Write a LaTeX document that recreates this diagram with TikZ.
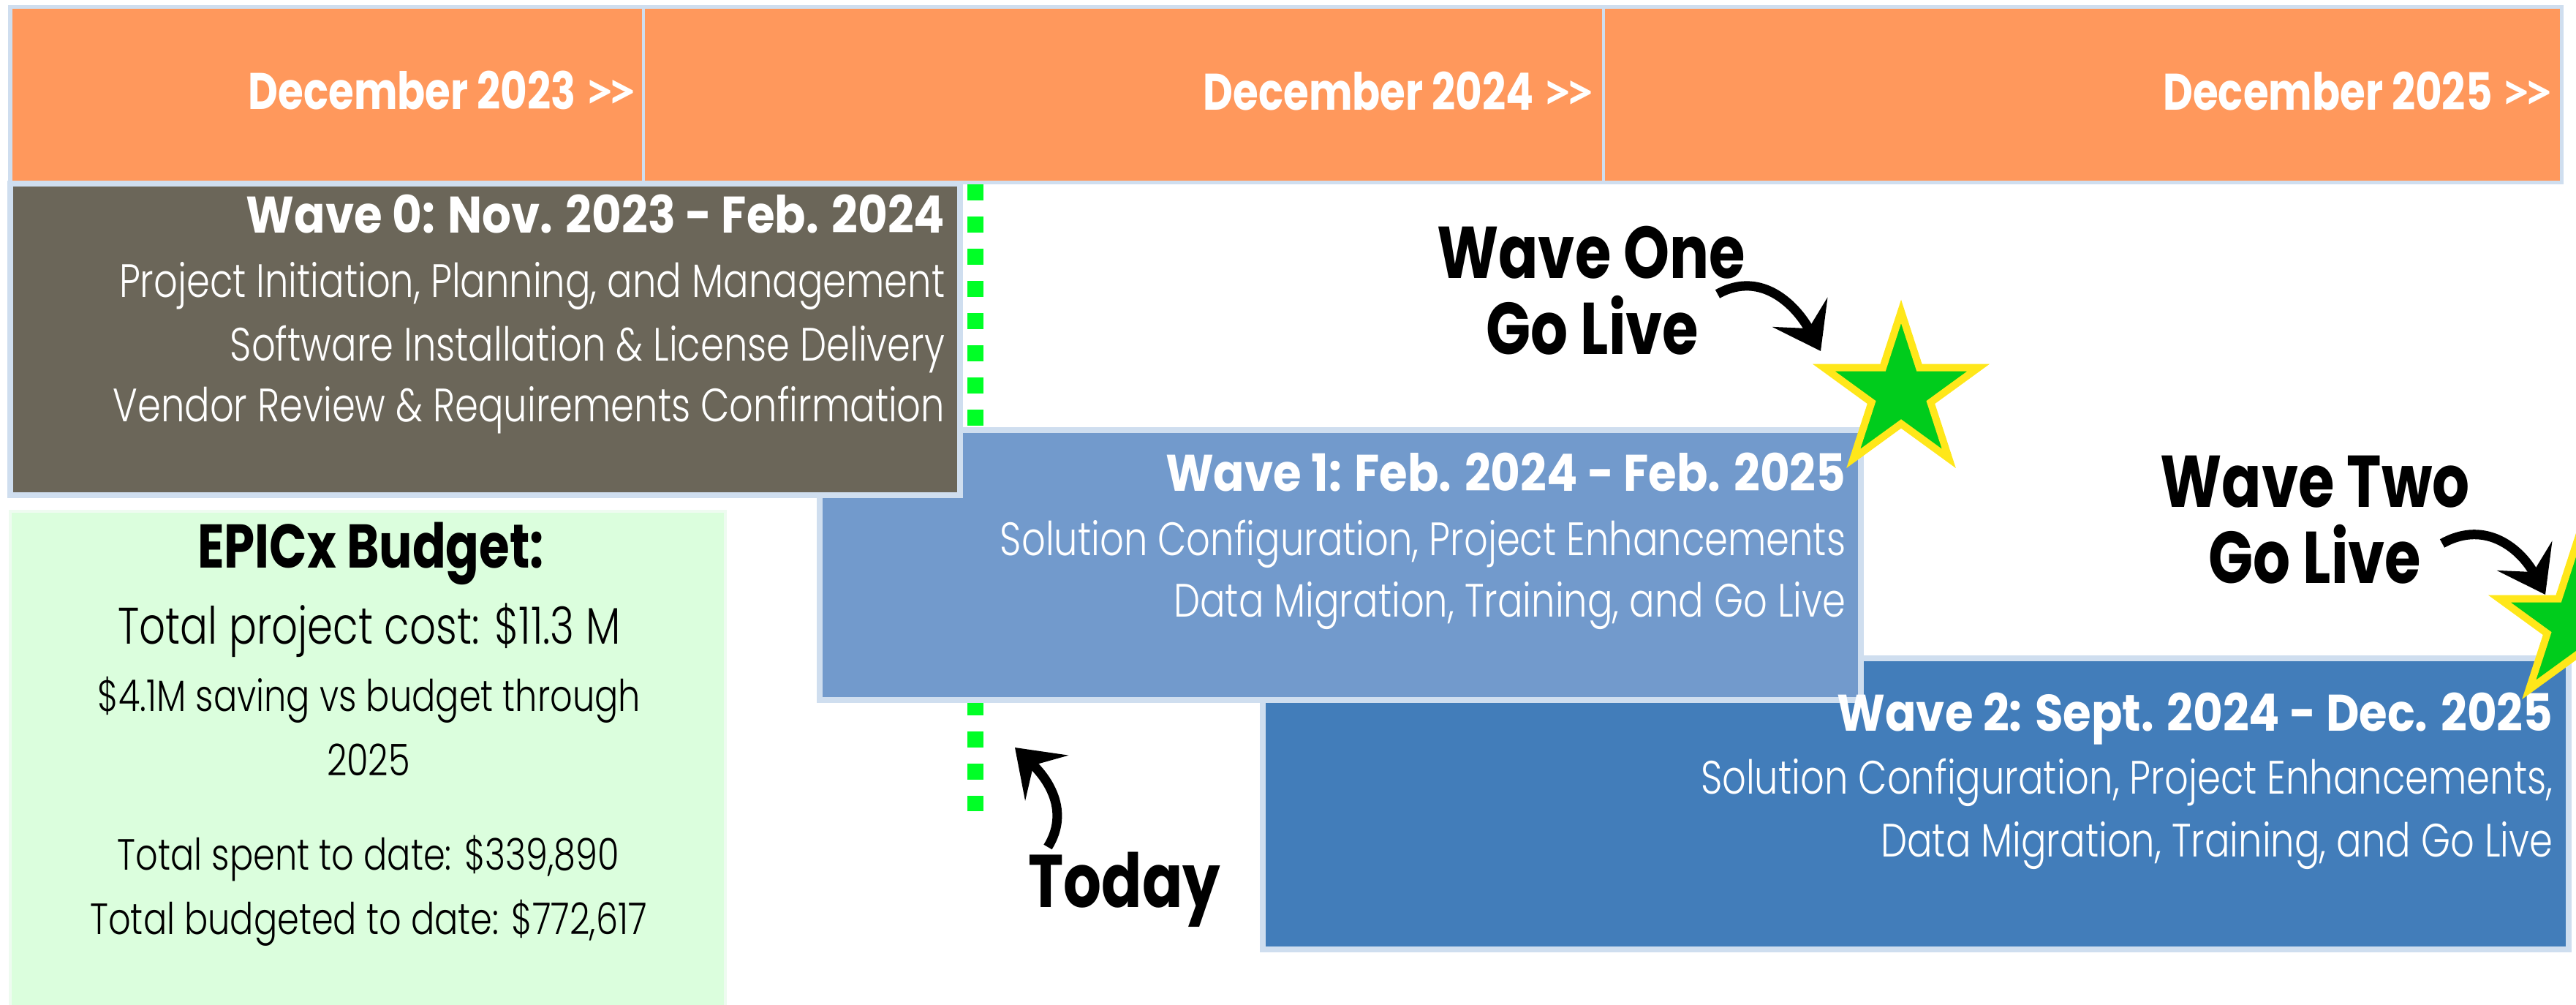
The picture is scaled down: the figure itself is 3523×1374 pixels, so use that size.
\documentclass[tikz,border=0pt]{standalone}
\usepackage{fontspec}
\setmainfont{Poppins}[FakeStretch=0.8]
\newfontfamily\widefont{Poppins}[FakeStretch=0.89]
\newfontfamily\chevfont{Lato}
\IfFontExistsTF{Poppins Light}{\newfontfamily\thinfont{Poppins Light}[FakeStretch=0.8]}{\newfontfamily\thinfont{Poppins}[FakeStretch=0.8]}
\usetikzlibrary{arrows.meta,shapes.geometric}

\definecolor{hdrorange}{HTML}{FF985C}
\definecolor{edgeblue}{HTML}{CFDEEF}
\definecolor{wavezero}{HTML}{6B6659}
\definecolor{waveone}{HTML}{729ACC}
\definecolor{wavetwo}{HTML}{427DBA}
\definecolor{budgetgreen}{HTML}{DBFEDD}
\definecolor{budgetedge}{HTML}{EEFBF0}
\definecolor{todaygreen}{HTML}{00FF26}
\definecolor{stargreen}{HTML}{00CC1C}
\definecolor{staryellow}{HTML}{FFE71A}

\newcommand\chev{{\chevfont\bfseries >\kern-0.14em>}}

\tikzset{
  wavebox/.style={draw=edgeblue,line width=0.08cm},
  hdrtxt/.style={font=\bfseries\fontsize{20}{24}\selectfont,text=white,anchor=base east,inner sep=0pt},
  titletxt/.style={font=\widefont\bfseries\fontsize{20}{24}\selectfont,text=white,anchor=base east,inner sep=0pt},
  linetxt/.style={font=\thinfont\fontsize{18.2}{22}\selectfont,text=white,anchor=base east,inner sep=0pt},
  budgettxt/.style={font=\thinfont\fontsize{17}{20}\selectfont,anchor=base,inner sep=0pt},
  calltxt/.style={font=\bfseries\fontsize{28.5}{34}\selectfont,anchor=base,inner sep=0pt},
  golive/.style={star,star points=5,star point ratio=2.618,minimum size=2.22cm,inner sep=0pt,
    fill=stargreen,draw=staryellow,line width=0.1cm},
  bentarrow/.style={line width=0.13cm,-{Stealth[length=6mm,width=8.5mm,inset=2.5mm]}},
  todaydots/.style={todaygreen,line width=0.22cm,dash pattern=on 0.22cm off 0.22cm},
}

\begin{document}
\begin{tikzpicture}[x=0.01cm,y=-0.01cm]
  \useasboundingbox (0,0) rectangle (3523,1374);

  % month band
  \fill[draw=edgeblue,line width=0.05cm,fill=hdrorange] (14,10) rectangle (3503,250);
  \draw[edgeblue,line width=0.04cm] (880,10) -- (880,250);
  \draw[edgeblue,line width=0.04cm] (2193,10) -- (2193,250);
  \node[hdrtxt] (dec23) at (872,150) {December 2023 \chev};
  \node[hdrtxt] (dec24) at (2182,151) {December 2024 \chev};
  \node[hdrtxt] (dec25) at (3493,151) {December 2025 \chev};

  % today marker
  \coordinate (todaytop) at (1334,252);
  \coordinate (todaybot) at (1334,1109);
  \draw[todaydots] (todaytop) -- (todaybot);

  % waves, back to front
  \fill[wavebox,fill=wavetwo] (1727,900) rectangle (3513,1298);
  \fill[wavebox,fill=waveone] (1121,588) rectangle (2545,957);
  \fill[wavebox,fill=wavezero] (14,251) rectangle (1313,677);
  \fill[draw=budgetedge,line width=0.04cm,fill=budgetgreen] (14,699) rectangle (992,1380);

  \node[titletxt] (w0title) at (1293,319) {Wave 0: Nov. 2023 - Feb. 2024};
  \node[linetxt] (w0a) at (1293,407) {Project Initiation, Planning, and Management};
  \node[linetxt] (w0b) at (1293,494) {Software Installation \& License Delivery};
  \node[linetxt] (w0c) at (1293,577) {Vendor Review \& Requirements Confirmation};

  \node[titletxt] (w1title) at (2525,672) {Wave 1: Feb. 2024 - Feb. 2025};
  \node[linetxt] (w1a) at (2525,760) {Solution Configuration, Project Enhancements};
  \node[linetxt] (w1b) at (2525,844) {Data Migration, Training, and Go Live};

  \node[titletxt] (w2title) at (3492,1000) {Wave 2: Sept. 2024 - Dec. 2025};
  \node[linetxt] (w2a) at (3492,1086) {Solution Configuration, Project Enhancements,};
  \node[linetxt] (w2b) at (3492,1172) {Data Migration, Training, and Go Live};

  % budget
  \node[budgettxt,font=\bfseries\fontsize{24}{28}\selectfont] (budget) at (507,777) {EPICx Budget:};
  \node[budgettxt,font=\thinfont\fontsize{20}{24}\selectfont] (cost) at (505,881) {Total project cost: \$11.3 M};
  \node[budgettxt] (saving) at (505,973) {\$4.1M saving vs budget through};
  \node[budgettxt] (savingyr) at (504,1061) {2025};
  \node[budgettxt] (spent) at (504,1190) {Total spent to date: \$339,890};
  \node[budgettxt] (budgeted) at (504,1278) {Total budgeted to date: \$772,617};

  % go live stars
  \node[golive] (star1) at (2600,537) {};
  \node[golive] (star2) at (3524,853) {};

  \node[calltxt] (w1call) at (2176,381) {Wave One};
  \node[calltxt] (w1go) at (2178,485) {Go Live};
  \node[calltxt] (w2call) at (3166,694) {Wave Two};
  \node[calltxt] (w2go) at (3166,798) {Go Live};
  \node[calltxt,font=\bfseries\fontsize{29}{34}\selectfont] (today) at (1538,1241) {Today};

  \coordinate (w1tail) at (2349,402);
  \coordinate (w1tip) at (2490,480);
  \draw[bentarrow] (w1tail) .. controls (2410,368) and (2458,420) .. (w1tip);
  \coordinate (w2tail) at (3340,743);
  \coordinate (w2tip) at (3481,813);
  \draw[bentarrow] (w2tail) .. controls (3401,709) and (3449,753) .. (w2tip);
  \coordinate (todaytail) at (1433,1158);
  \coordinate (todaytip) at (1388,1022);
  \draw[bentarrow] (todaytail) .. controls (1464,1108) and (1432,1064) .. (todaytip);
\end{tikzpicture}
\end{document}
